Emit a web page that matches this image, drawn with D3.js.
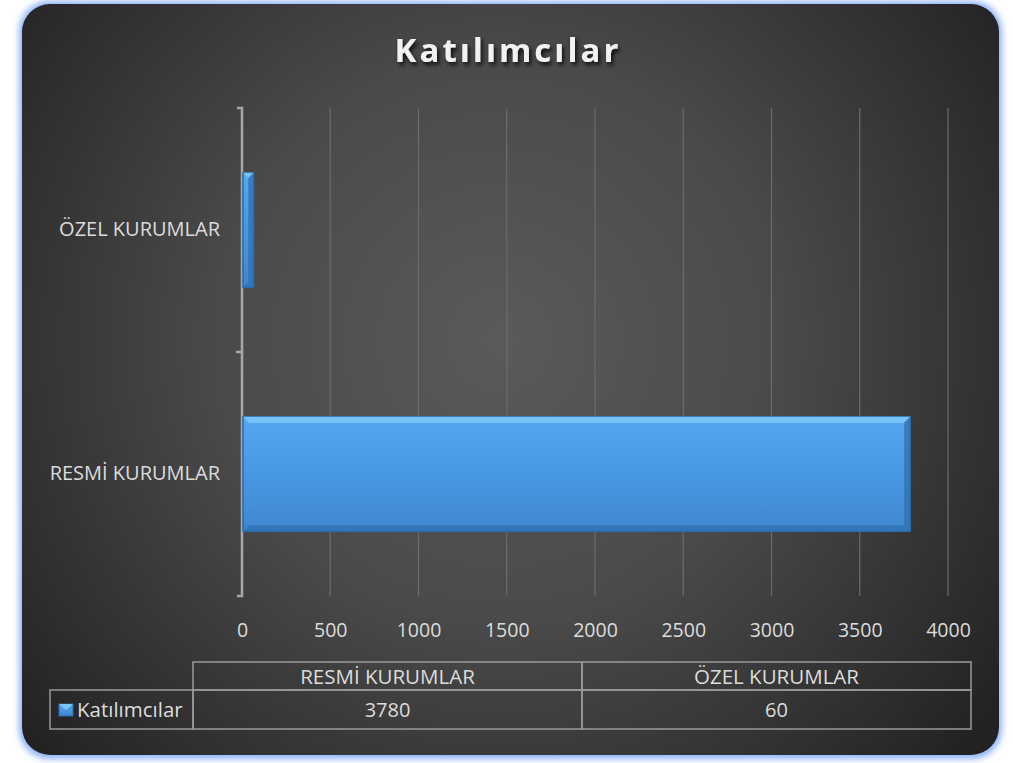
<!doctype html>
<html lang="tr">
<head>
    <meta charset="utf-8">
    <title>Katılımcılar</title>
    <script src="https://d3js.org/d3.v7.min.js"></script>
    <style type="text/css">
        body { margin: 0; background: #fff; }
        svg { display: block; }
        text { font-family: "Open Sans", "Noto Sans", sans-serif; }
    </style>
</head>

<body>
</body>

<script type="text/javascript">

    var width  = 1013;
    var height = 763;

    var title = "Katılımcılar";
    var seriesName = "Katılımcılar";
    var categories = ["RESMİ KURUMLAR", "ÖZEL KURUMLAR"];
    var values = [3780, 60];
    var xTicks = [0, 500, 1000, 1500, 2000, 2500, 3000, 3500, 4000];

    var svg = d3.select("body")
        .append("svg")
        .attr("width", width)
        .attr("height", height);

    var defs = svg.append("defs");

    var bg = defs.append("radialGradient")
        .attr("id", "bg")
        .attr("gradientUnits", "userSpaceOnUse")
        .attr("cx", 500).attr("cy", 340).attr("r", 620);
    bg.append("stop").attr("offset", "0%").attr("stop-color", "#5a5a5a");
    bg.append("stop").attr("offset", "45%").attr("stop-color", "#4a4a4a");
    bg.append("stop").attr("offset", "100%").attr("stop-color", "#222");

    var glow = defs.append("filter").attr("id", "glow")
        .attr("x", "-5%").attr("y", "-5%").attr("width", "110%").attr("height", "110%");
    glow.append("feGaussianBlur").attr("stdDeviation", 3);

    var barGrad = defs.append("linearGradient")
        .attr("id", "barGrad")
        .attr("x1", 0).attr("y1", 0).attr("x2", 0).attr("y2", 1);
    barGrad.append("stop").attr("offset", "0%").attr("stop-color", "#55a8f0");
    barGrad.append("stop").attr("offset", "40%").attr("stop-color", "#4a9be6");
    barGrad.append("stop").attr("offset", "100%").attr("stop-color", "#3f86cf");

    var shadow = defs.append("filter").attr("id", "tshadow")
        .attr("x", "-10%").attr("y", "-20%").attr("width", "120%").attr("height", "160%");
    shadow.append("feDropShadow")
        .attr("dx", 2).attr("dy", 3).attr("stdDeviation", 2)
        .attr("flood-color", "#000").attr("flood-opacity", 0.8);

    // frame
    svg.append("rect")
        .attr("x", 19).attr("y", 1).attr("width", 983).attr("height", 758)
        .attr("rx", 30)
        .attr("fill", "#8fb4f5")
        .attr("filter", "url(#glow)");
    svg.append("rect")
        .attr("x", 22).attr("y", 4).attr("width", 977).attr("height", 751)
        .attr("rx", 28)
        .attr("fill", "url(#bg)");

    // title
    svg.append("text")
        .attr("x", 508).attr("y", 62)
        .attr("text-anchor", "middle")
        .attr("fill", "#f2f2f2")
        .attr("font-size", 33)
        .attr("font-weight", "bold")
        .attr("letter-spacing", 3)
        .attr("filter", "url(#tshadow)")
        .text(title);

    var x = d3.scaleLinear().domain([0, 4000]).range([242, 948]);
    var y = d3.scaleBand()
        .domain(categories.slice().reverse())
        .range([108, 596])
        .paddingInner(0.53)
        .paddingOuter(0.265);

    // grid
    svg.append("g")
        .selectAll("line")
        .data(xTicks.slice(1))
        .join("line")
        .attr("x1", d => x(d)).attr("x2", d => x(d))
        .attr("y1", 108).attr("y2", 596)
        .attr("stroke", "#6c6c6c")
        .attr("stroke-width", 1.2);

    // x tick labels
    var xAxis = svg.append("g")
        .attr("transform", "translate(0,623)")
        .call(d3.axisBottom(x).tickValues(xTicks).tickFormat(d3.format("d")).tickSize(0).tickPadding(0));
    xAxis.select(".domain").remove();
    xAxis.selectAll("text")
        .attr("fill", "#dcdcdc")
        .attr("font-size", 19.5)
        .attr("font-family", "'Open Sans', 'Noto Sans', sans-serif");

    // y axis
    var yAxis = svg.append("g")
        .attr("transform", "translate(242,0)")
        .call(d3.axisLeft(y).tickSize(0).tickPadding(22));
    yAxis.select(".domain")
        .attr("stroke", "#a8a8a8")
        .attr("stroke-width", 2.5)
        .attr("d", "M-5,108H0V596H-5");
    yAxis.selectAll("text")
        .attr("fill", "#dcdcdc")
        .attr("font-size", 20)
        .attr("font-family", "'Open Sans', 'Noto Sans', sans-serif");
    svg.append("line")
        .attr("x1", 236).attr("x2", 242)
        .attr("y1", (y.range()[0] + y.range()[1]) / 2)
        .attr("y2", (y.range()[0] + y.range()[1]) / 2)
        .attr("stroke", "#a8a8a8").attr("stroke-width", 2.5);

    // bars
    var bars = svg.append("g")
        .selectAll("g")
        .data(categories.map((c, i) => ({ cat: c, val: values[i] })))
        .join("g");

    bars.append("rect")
        .attr("x", x(0) + 1)
        .attr("y", d => y(d.cat))
        .attr("width", d => x(d.val) - x(0))
        .attr("height", y.bandwidth())
        .attr("fill", "url(#barGrad)")
        .attr("stroke", "#2d6aa5")
        .attr("stroke-width", 1.5);
    // bevel highlight (top) and shade (bottom/right)
    bars.append("path")
        .attr("fill", "#7cc6f7")
        .attr("opacity", 0.9)
        .attr("d", d => {
            var x0 = x(0) + 1, x1 = x(d.val) + 1, y0 = y(d.cat), b = Math.min(6, (x1 - x0) / 2);
            return "M" + x0 + "," + y0 + "H" + x1 + "L" + (x1 - b) + "," + (y0 + b) + "H" + (x0 + b) + "Z";
        });
    bars.append("path")
        .attr("fill", "#2f72b3")
        .attr("opacity", 0.8)
        .attr("d", d => {
            var x0 = x(0) + 1, x1 = x(d.val) + 1, y0 = y(d.cat), y1 = y0 + y.bandwidth(), b = Math.min(6, (x1 - x0) / 2);
            return "M" + x0 + "," + y1 + "H" + x1 + "L" + (x1 - b) + "," + (y1 - b) + "H" + (x0 + b) + "Z" +
                   "M" + x1 + "," + y0 + "V" + y1 + "L" + (x1 - b) + "," + (y1 - b) + "V" + (y0 + b) + "Z";
        });

    // data table
    var cols = d3.scaleBand().domain(categories).range([193, 971]);
    var table = svg.append("g");
    var lineCol = "#9a9a9a";

    table.selectAll("rect.hdr")
        .data(categories)
        .join("rect")
        .attr("class", "hdr")
        .attr("x", d => cols(d)).attr("y", 662)
        .attr("width", cols.bandwidth()).attr("height", 28)
        .attr("fill", "none").attr("stroke", lineCol).attr("stroke-width", 1.5);
    table.selectAll("rect.val")
        .data(categories)
        .join("rect")
        .attr("class", "val")
        .attr("x", d => cols(d)).attr("y", 690)
        .attr("width", cols.bandwidth()).attr("height", 39)
        .attr("fill", "none").attr("stroke", lineCol).attr("stroke-width", 1.5);
    table.append("rect")
        .attr("x", 50).attr("y", 690)
        .attr("width", 143).attr("height", 39)
        .attr("fill", "none").attr("stroke", lineCol).attr("stroke-width", 1.5);

    table.selectAll("text.hdr")
        .data(categories)
        .join("text")
        .attr("class", "hdr")
        .attr("x", d => cols(d) + cols.bandwidth() / 2).attr("y", 684)
        .attr("text-anchor", "middle")
        .attr("fill", "#dcdcdc").attr("font-size", 20.5)
        .text(d => d);
    table.selectAll("text.val")
        .data(values)
        .join("text")
        .attr("class", "val")
        .attr("x", (d, i) => cols(categories[i]) + cols.bandwidth() / 2).attr("y", 717)
        .attr("text-anchor", "middle")
        .attr("fill", "#dcdcdc").attr("font-size", 20)
        .text(d => d);

    // legend key
    table.append("rect")
        .attr("x", 59).attr("y", 704).attr("width", 14).attr("height", 12)
        .attr("fill", "url(#barGrad)").attr("stroke", "#2d6aa5");
    table.append("path")
        .attr("d", "M59,704H73L66,710Z")
        .attr("fill", "#7cc6f7");
    table.append("text")
        .attr("x", 77).attr("y", 717)
        .attr("fill", "#dcdcdc").attr("font-size", 20.5)
        .text(seriesName);

</script>

</html>
